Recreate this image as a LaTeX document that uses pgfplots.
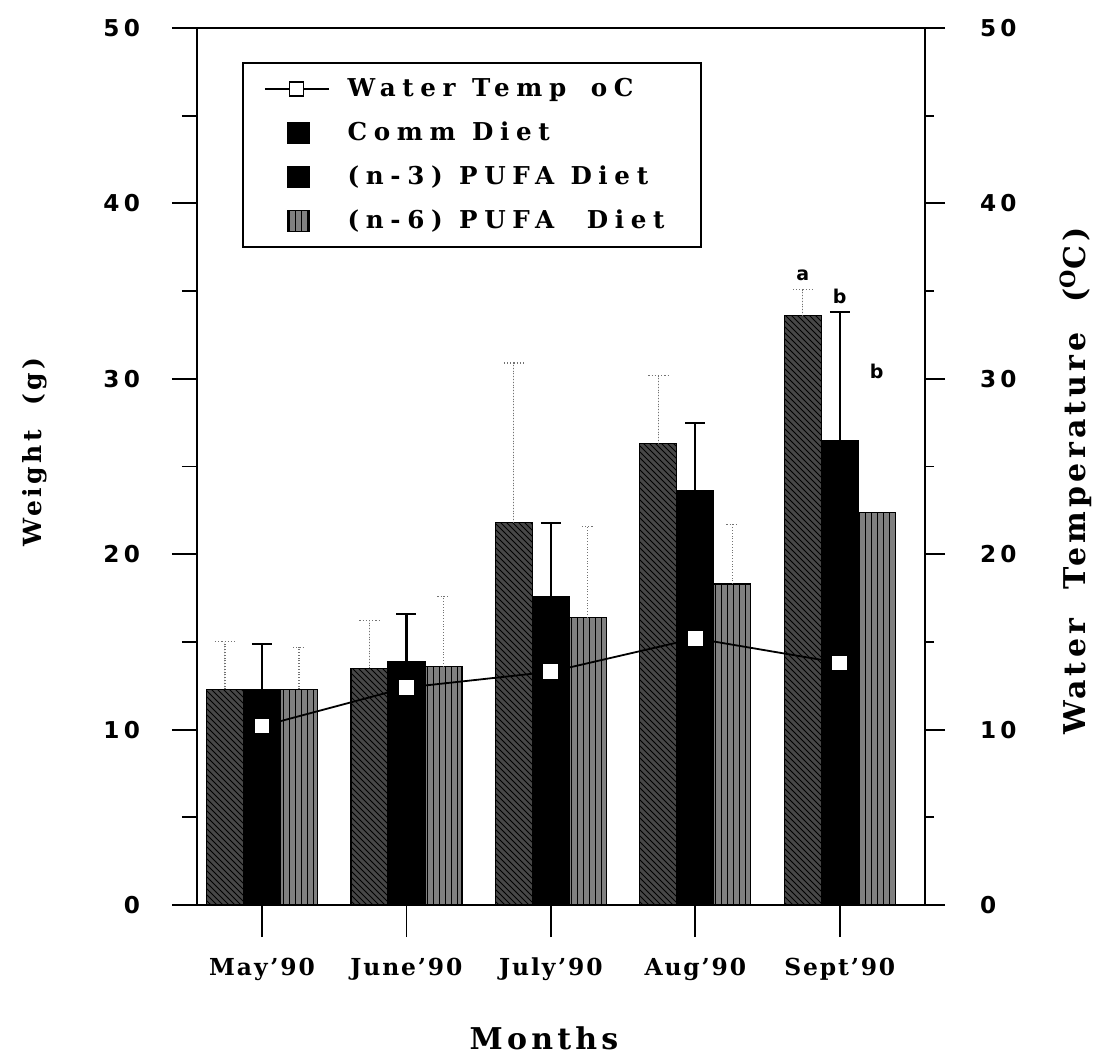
\documentclass[border=0pt]{standalone}
\usepackage{fontspec}
\setmainfont{DejaVu Serif}
\usepackage{pgfplots}
\pgfplotsset{compat=1.18}
\usetikzlibrary{patterns}
\newfontfamily\numfont[LetterSpace=18]{DejaVu Sans}
\newfontfamily\monfont[LetterSpace=8]{DejaVu Serif}
\newfontfamily\labfont[LetterSpace=14]{DejaVu Serif}
\newfontfamily\legfont[LetterSpace=27]{DejaVu Serif}

\pgfplotsset{
  base/.style={
    at={(0,0)}, anchor=south west,
    scale only axis, width=364pt, height=438.5pt,
    xmin=-0.45, xmax=4.59, ymin=0, ymax=50,
    axis line style={line width=0.9pt},
    tick style={line width=0.9pt, black},
    tick align=outside,
  }
}

\begin{document}
\begin{tikzpicture}
\useasboundingbox (-98.5pt,-77.5pt) rectangle (452.5pt,452.5pt);

% x ticks and labels
\begin{axis}[base, hide y axis, axis x line*=bottom,
  xtick={0,1,2,3,4},
  xticklabels={May’90,June’90,July’90,Aug’90,Sept’90},
  major tick length=16pt,
  xticklabel style={font=\monfont\bfseries\fontsize{11.7}{14}\selectfont, yshift=-7pt},
  xlabel={Months},
  xlabel style={at={(axis description cs:0.4766,-0.1517)}, anchor=center,
    font=\labfont\bfseries\fontsize{15}{18}\selectfont}]
\addplot[draw=none] coordinates {(0,0)};
\end{axis}

% bars (left axis)
\begin{axis}[base, ybar,
  xtick=\empty, ytick pos=left,
  ytick={0,10,20,30,40,50}, yticklabels={0,10,20,30,40,50},
  minor ytick={5,15,25,35,45},
  major tick length=12.5pt, minor tick length=7.5pt,
  yticklabel style={font=\numfont\bfseries\fontsize{11.6}{13}\selectfont, xshift=-12.5pt},
  ylabel={Weight\ \ (g)},
  ylabel style={at={(axis description cs:-0.2225,0.5165)}, anchor=center,
    font=\labfont\bfseries\fontsize{12.5}{15}\selectfont},
  bar width=18.5pt]
% Comm Diet
\addplot[bar shift=-18.5pt, fill=black!72, draw=black, line width=0.6pt,
  postaction={pattern=north west lines, pattern color=black},
  error bars/.cd, y dir=plus, y explicit, error mark=-,
  error bar style={densely dotted, black!55, line width=0.6pt},
  error mark options={rotate=90, black!55, densely dotted, mark size=5pt, line width=0.6pt}]
  coordinates {(0,12.3) +- (0,2.7) (1,13.5) +- (0,2.7) (2,21.8) +- (0,9.1) (3,26.3) +- (0,3.9) (4,33.6) +- (0,1.5)};
% (n-3) PUFA Diet
\addplot[bar shift=0pt, fill=black, draw=black, line width=0.6pt,
  error bars/.cd, y dir=plus, y explicit, error mark=-,
  error bar style={black, line width=1.1pt},
  error mark options={rotate=90, black, mark size=5pt, line width=1.1pt}]
  coordinates {(0,12.3) +- (0,2.6) (1,13.9) +- (0,2.7) (2,17.6) +- (0,4.2) (3,23.6) +- (0,3.9) (4,26.5) +- (0,7.3)};
% (n-6) PUFA Diet
\addplot[bar shift=18.5pt, fill=black!50, draw=black, line width=0.6pt,
  postaction={pattern=vertical lines, pattern color=black}]
  coordinates {(0,12.3) (1,13.6) (2,16.4) (3,18.3) (4,22.4)};
% (n-6) error bars (none shown for Sept)
\addplot[bar shift=18.5pt, draw=none, fill=none,
  error bars/.cd, y dir=plus, y explicit, error mark=-,
  error bar style={draw=black!55, densely dotted, line width=0.6pt},
  error mark options={rotate=90, draw=black!55, densely dotted, mark size=3pt, line width=0.6pt}]
  coordinates {(0,12.3) +- (0,2.4) (1,13.6) +- (0,4.0) (2,16.4) +- (0,5.2) (3,18.3) +- (0,3.4)};
\node[font=\numfont\bfseries\fontsize{9.5}{11}\selectfont, xshift=-18.5pt] at (axis cs:4,35.9) {a};
\node[font=\numfont\bfseries\fontsize{9.5}{11}\selectfont] at (axis cs:4,34.7) {b};
\node[font=\numfont\bfseries\fontsize{9.5}{11}\selectfont, xshift=18.5pt] at (axis cs:4,30.4) {b};
\end{axis}

% temperature (right axis)
\begin{axis}[base,
  axis x line=none, axis y line*=right,
  ytick={0,10,20,30,40,50}, yticklabels={0,10,20,30,40,50},
  minor ytick={5,15,25,35,45},
  major tick length=10pt, minor tick length=4.5pt,
  yticklabel style={font=\numfont\bfseries\fontsize{11.6}{13}\selectfont, xshift=14pt},
  ylabel={Water\ \ Temperature\ \ (\textsuperscript{O}C)},
  ylabel style={at={(axis description cs:1.2074,0.4835)}, anchor=center,
    font=\labfont\bfseries\fontsize{15}{18}\selectfont},
  legend cell align=left,
  legend style={at={(axis description cs:0.0618,0.961)}, anchor=north west,
    draw=black, line width=0.9pt, inner xsep=10.5pt, inner ysep=7pt,
    row sep=10pt, column sep=9pt,
    font=\legfont\bfseries\fontsize{12.3}{14}\selectfont,
    nodes={inner sep=0pt, text height=9.5pt, text depth=2.5pt, text width=166pt, anchor=west}}]
\addplot[black, line width=0.9pt, mark=square*, mark size=4pt,
  mark options={fill=white, draw=black, line width=0.6pt},
  legend image code/.code={
    \draw[black, line width=0.9pt] (0pt,0pt) -- (32pt,0pt);
    \draw[black, fill=white, line width=0.6pt] (12.5pt,-3.5pt) rectangle (19.5pt,3.5pt);}]
  coordinates {(0,10.2) (1,12.4) (2,13.3) (3,15.2) (4,13.8)};
\addlegendentry{Water\ \ Temp\ \ \ oC}
\addlegendimage{legend image code/.code={\fill[black] (11.75pt,-5.25pt) rectangle (22.25pt,5.25pt);}}
\addlegendentry{Comm\ \ Diet}
\addlegendimage{legend image code/.code={\fill[black] (11.75pt,-5.25pt) rectangle (22.25pt,5.25pt);}}
\addlegendentry{(n-3)\ \ PUFA\ \ Diet}
\addlegendimage{legend image code/.code={\fill[black!50] (11.75pt,-5.25pt) rectangle (22.25pt,5.25pt);
  \fill[pattern=vertical lines, pattern color=black] (11.75pt,-5.25pt) rectangle (22.25pt,5.25pt);}}
\addlegendentry{(n-6)\ \ PUFA\ \ \ \ Diet}
\end{axis}
\end{tikzpicture}
\end{document}
